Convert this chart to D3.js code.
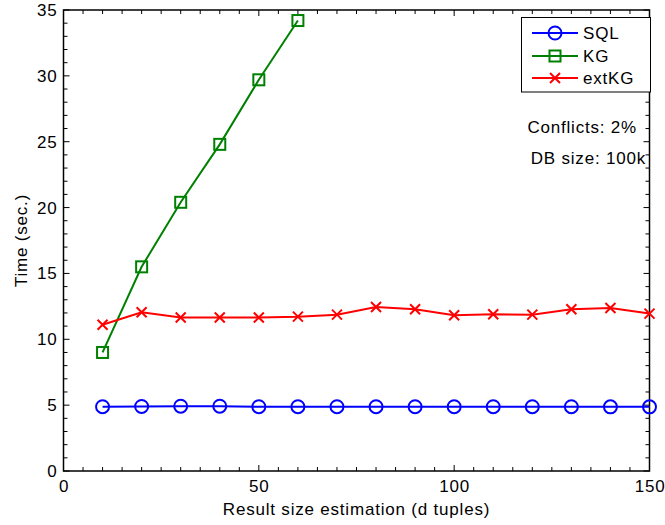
<!DOCTYPE html>
<html><head><meta charset="utf-8">
<script src="https://cdn.jsdelivr.net/npm/d3@7"></script>
<style>body{margin:0;background:#fff;} text{font-family:"Liberation Sans",Arial,sans-serif;letter-spacing:0.8px;}</style>
</head><body>
<svg id="c" width="665" height="525"></svg>
<script>
const xVals = [10,20,30,40,50,60,70,80,90,100,110,120,130,140,150];
const sqlVals = [4.88,4.9,4.92,4.92,4.88,4.88,4.88,4.88,4.88,4.88,4.88,4.88,4.88,4.87,4.87];
const kgX = [10,20,30,40,50,60];
const kgVals = [9.0,15.5,20.4,24.8,29.7,34.2];
const extVals = [11.1,12.05,11.65,11.65,11.65,11.72,11.87,12.45,12.28,11.82,11.9,11.87,12.28,12.38,11.95];
const xTicks = [0,50,100,150];
const yTicks = [0,5,10,15,20,25,30,35];
const seriesNames = ["SQL","KG","extKG"];
const annotations = ["Conflicts: 2%","DB size: 100k"];

const svg = d3.select("#c");
const L=63.5, R=649.5, T=10, B=471;
const x = d3.scaleLinear().domain([0,150]).range([L,R]);
const y = d3.scaleLinear().domain([0,35]).range([B,T]);
const g = svg.append("g");

// minor ticks
const minorX = d3.range(0,151,5), minorY = d3.range(0,36,1);
const tk = g.append("g").attr("stroke","#000").attr("stroke-width",1);
minorX.forEach(v=>{ const len = v%50===0?6:4;
  tk.append("line").attr("x1",x(v)).attr("x2",x(v)).attr("y1",B).attr("y2",B-len);
  tk.append("line").attr("x1",x(v)).attr("x2",x(v)).attr("y1",T).attr("y2",T+len);});
minorY.forEach(v=>{ const len = v%5===0?6:4;
  tk.append("line").attr("y1",y(v)).attr("y2",y(v)).attr("x1",L).attr("x2",L+len);
  tk.append("line").attr("y1",y(v)).attr("y2",y(v)).attr("x1",R).attr("x2",R-len);});

g.append("rect").attr("x",L).attr("y",T).attr("width",R-L).attr("height",B-T)
  .attr("fill","none").attr("stroke","#000").attr("stroke-width",1.5);

// axes labels
const xa = g.append("g").attr("transform",`translate(0,${B})`)
  .call(d3.axisBottom(x).tickValues(xTicks).tickSize(0).tickPadding(9));
xa.select(".domain").remove();
xa.selectAll("text").attr("font-size",17).attr("fill","#000").attr("font-family","Liberation Sans, Arial");
const ya = g.append("g").attr("transform",`translate(${L},0)`)
  .call(d3.axisLeft(y).tickValues(yTicks).tickSize(0).tickPadding(6));
ya.select(".domain").remove();
ya.selectAll("text").attr("font-size",17).attr("fill","#000").attr("font-family","Liberation Sans, Arial");

g.append("text").attr("x",(L+R)/2).attr("y",515).attr("text-anchor","middle").attr("font-size",17).text("Result size estimation (d tuples)");
g.append("text").attr("transform",`translate(27,${(T+B)/2}) rotate(-90)`).attr("text-anchor","middle").attr("font-size",17).text("Time (sec.)");

const line = d3.line().x(d=>x(d[0])).y(d=>y(d[1]));
const sql = xVals.map((v,i)=>[v,sqlVals[i]]);
const kg = kgX.map((v,i)=>[v,kgVals[i]]);
const ext = xVals.map((v,i)=>[v,extVals[i]]);

function drawCircle(sel,cx,cy){ sel.append("circle").attr("cx",cx).attr("cy",cy).attr("r",6.5).attr("fill","none").attr("stroke","#0000ff").attr("stroke-width",2); }
function drawSquare(sel,cx,cy){ sel.append("rect").attr("x",cx-5.5).attr("y",cy-5.5).attr("width",11).attr("height",11).attr("fill","none").attr("stroke","#008000").attr("stroke-width",2); }
function drawX(sel,cx,cy){ const s=5; sel.append("path").attr("d",`M${cx-s},${cy-s}L${cx+s},${cy+s}M${cx-s},${cy+s}L${cx+s},${cy-s}`).attr("stroke","#ff0000").attr("stroke-width",2); }

const plot = g.append("g");
plot.append("path").datum(sql).attr("d",line).attr("fill","none").attr("stroke","#0000ff").attr("stroke-width",2);
plot.append("path").datum(kg).attr("d",line).attr("fill","none").attr("stroke","#008000").attr("stroke-width",2);
plot.append("path").datum(ext).attr("d",line).attr("fill","none").attr("stroke","#ff0000").attr("stroke-width",2);
sql.forEach(d=>drawCircle(plot,x(d[0]),y(d[1])));
kg.forEach(d=>drawSquare(plot,x(d[0]),y(d[1])));
ext.forEach(d=>drawX(plot,x(d[0]),y(d[1])));

// legend
const lg = g.append("g");
lg.append("rect").attr("x",521.5).attr("y",17.5).attr("width",129).attr("height",74.5).attr("fill","#fff").attr("stroke","#000").attr("stroke-width",1);
const colors=["#0000ff","#008000","#ff0000"];
const markers=[drawCircle,drawSquare,drawX];
const rowY=[33,56,78];
seriesNames.forEach((n,i)=>{
  lg.append("line").attr("x1",532).attr("x2",578).attr("y1",rowY[i]).attr("y2",rowY[i]).attr("stroke",colors[i]).attr("stroke-width",2);
  markers[i](lg,555,rowY[i]);
  lg.append("text").attr("x",583).attr("y",rowY[i]+6).attr("font-size",17).text(n);
});

g.append("text").attr("x",637).attr("y",133).attr("text-anchor","end").attr("font-size",17).text(annotations[0]);
g.append("text").attr("x",646).attr("y",164).attr("text-anchor","end").attr("font-size",17).text(annotations[1]);
</script>
</body></html>
